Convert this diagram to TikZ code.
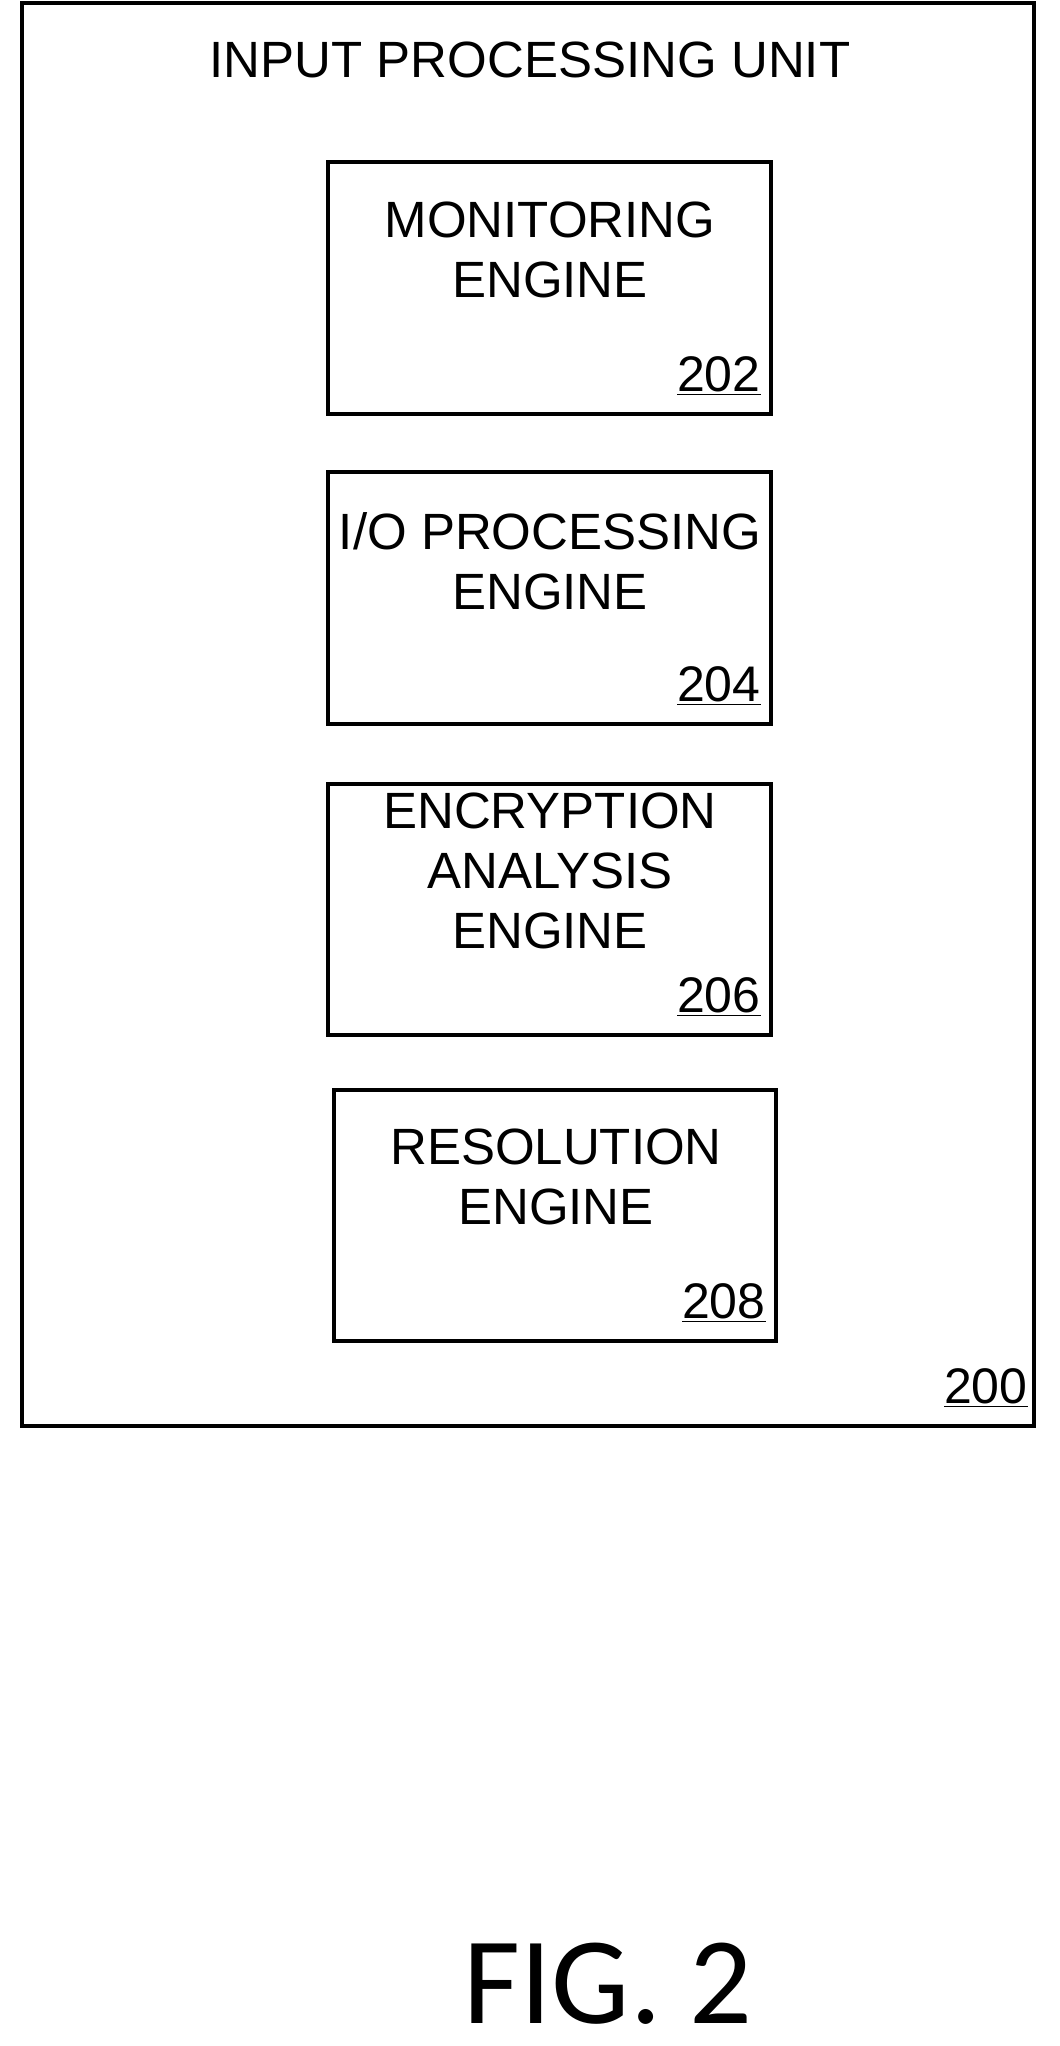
\documentclass[tikz,border=0pt]{standalone}
\usepackage{fontspec}
\setmainfont{Liberation Sans}
\newfontfamily\figfont{Carlito}
\begin{document}
\begin{tikzpicture}[x=0.5pt,y=-0.5pt,
  box/.style={draw,line width=2.2pt,inner sep=0pt},
  txt/.style={font=\fontsize{25.5}{30}\selectfont,align=center},
  num/.style={font=\fontsize{25}{30}\selectfont,anchor=south east,inner sep=0pt}]
\useasboundingbox (0,0) rectangle (1060,2046);
\draw[line width=2.2pt] (22,3) rectangle (1034,1426);
\node[txt] (title) at (530,60) {INPUT PROCESSING UNIT};
\node[num] (n200) at (1028,1408) {\underline{200}};
% boxes
\draw[box] (328,162) rectangle (771,414);
\node[txt] (t202) at (550,250) {MONITORING\\ENGINE};
\node[num] (n202) at (761,396) {\underline{202}};
\draw[box] (328,472) rectangle (771,724);
\node[txt] (t204) at (550,561) {I/O PROCESSING\\ENGINE};
\node[num] (n204) at (761,706) {\underline{204}};
\draw[box] (328,784) rectangle (771,1035);
\node[txt] (t206) at (550,871) {ENCRYPTION\\ANALYSIS\\ENGINE};
\node[num] (n206) at (761,1017) {\underline{206}};
\draw[box] (334,1090) rectangle (776,1341);
\node[txt] (t208) at (556,1177) {RESOLUTION\\ENGINE};
\node[num] (n208) at (766,1323) {\underline{208}};
\node[font=\figfont\fontsize{62}{70}\selectfont,inner sep=0pt] (fig) at (608,1984) {FIG. 2};
\end{tikzpicture}
\end{document}
